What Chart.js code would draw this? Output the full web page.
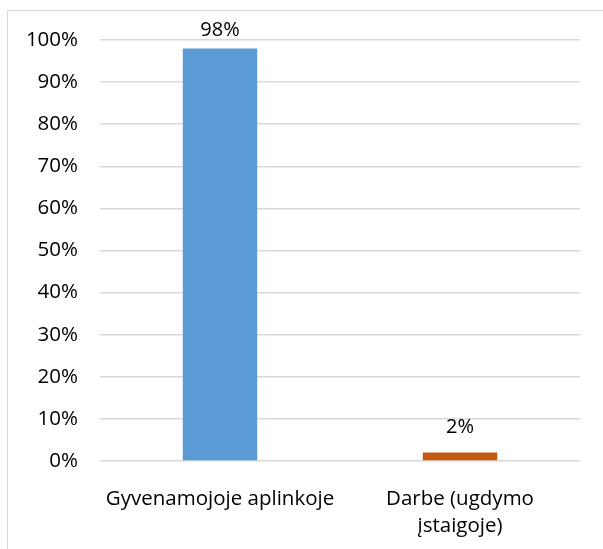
<!DOCTYPE html>
<html>
<head>
<meta charset="utf-8">
<script src="https://cdn.jsdelivr.net/npm/chart.js@4"></script>
<style>
  html, body { margin: 0; padding: 0; background: #fff; overflow: hidden; }
  #frame { position: absolute; left: 7px; top: 10px; width: 700px; height: 700px; border: 1px solid #d9d9d9; }
  #chart { position: absolute; left: 0; top: 0; }
</style>
</head>
<body>
<div id="frame"></div>
<canvas id="chart" width="603" height="549"></canvas>
<script>
const categories = ['Gyvenamojoje aplinkoje', ['Darbe (ugdymo', 'įstaigoje)']];
const shares = [98, 2];
const barColors = ['#5b9bd5', '#c55a11'];

// writes the value above each bar
const valueLabels = {
  id: 'valueLabels',
  afterDatasetsDraw(chart) {
    const ctx = chart.ctx;
    const meta = chart.getDatasetMeta(0);
    ctx.save();
    ctx.font = '20px "Open Sans"';
    ctx.fillStyle = '#000';
    ctx.textAlign = 'center';
    ctx.textBaseline = 'middle';
    meta.data.forEach((bar, i) => {
      ctx.fillText(shares[i] + '%', bar.x, bar.y - (i === 0 ? 18 : 25));
    });
    ctx.restore();
  }
};

new Chart(document.getElementById('chart').getContext('2d'), {
  type: 'bar',
  data: {
    labels: categories,
    datasets: [{
      data: shares,
      backgroundColor: barColors,
      categoryPercentage: 1,
      barPercentage: 0.31,
    }],
  },
  options: {
    responsive: false,
    animation: false,
    layout: { padding: { left: 0, right: 23, top: 40, bottom: 0 } },
    plugins: { legend: { display: false }, tooltip: { enabled: false } },
    scales: {
      x: {
        grid: { display: false },
        border: { display: false },
        ticks: { color: '#000', padding: 16, font: { family: 'Open Sans', size: 20.5, lineHeight: 1.35 }, maxRotation: 0 },
        afterFit(scale) { scale.height = 88; },
      },
      y: {
        min: 0,
        max: 100,
        ticks: {
          stepSize: 10,
          color: '#000',
          padding: 22,
          font: { family: 'Open Sans', size: 20.5 },
          callback: v => v + '%',
        },
        grid: { color: '#d9d9d9', lineWidth: 1.5, drawTicks: false },
        border: { display: false },
        afterFit(scale) { scale.width = 100; },
      },
    },
  },
  plugins: [valueLabels],
});
</script>
</body>
</html>
